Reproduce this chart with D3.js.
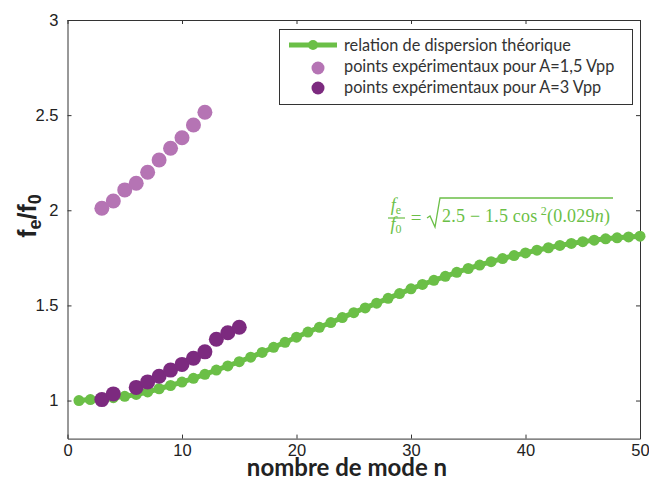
<!DOCTYPE html>
<html>
<head>
<meta charset="utf-8">
<script src="https://cdn.jsdelivr.net/npm/d3@7"></script>
<style>
    body { margin: 0; background: #fff; }
</style>
</head>
<body>
<svg id="chart"></svg>
<script>

// theoretical dispersion relation, n = 1..50
const modesTheory = d3.range(1, 51);
const ratioTheory = [
    1.000, 1.005, 1.010, 1.015, 1.022, 1.032, 1.045, 1.062, 1.079, 1.097,
    1.117, 1.138, 1.160, 1.182, 1.204, 1.228, 1.253, 1.280, 1.306, 1.333,
    1.360, 1.385, 1.410, 1.436, 1.462, 1.487, 1.512, 1.537, 1.562, 1.587,
    1.610, 1.632, 1.653, 1.674, 1.694, 1.712, 1.730, 1.746, 1.762, 1.776,
    1.790, 1.803, 1.815, 1.826, 1.835, 1.843, 1.850, 1.855, 1.860, 1.864
];

// experimental points, A = 1.5 Vpp
const modesA15 = [3, 4, 5, 6, 7, 8, 9, 10, 11, 12];
const ratioA15 = [2.011, 2.049, 2.107, 2.142, 2.200, 2.264, 2.326, 2.381, 2.448, 2.515];

// experimental points, A = 3 Vpp
const modesA3 = [3, 4, 6, 7, 8, 9, 10, 11, 12, 13, 14, 15];
const ratioA3 = [1.005, 1.035, 1.069, 1.098, 1.128, 1.160, 1.190, 1.222, 1.256, 1.322, 1.356, 1.385];

const xTicks = [0, 10, 20, 30, 40, 50];
const yTicks = [1, 1.5, 2, 2.5, 3];

const legendLabels = [
    "relation de dispersion théorique",
    "points expérimentaux pour A=1,5 Vpp",
    "points expérimentaux pour A=3 Vpp"
];

const green = "#6bbf47";
const lightPurple = "#b574b4";
const darkPurple = "#7c2a7f";

const width = 649, height = 481;
const plotLeft = 67.5, plotRight = 640, plotTop = 20, plotBottom = 438.6;

const svg = d3.select("#chart")
    .attr("width", width)
    .attr("height", height);

const x = d3.scaleLinear().domain([0, 50]).range([plotLeft, plotRight]);
const y = d3.scaleLinear().domain([0.8, 3]).range([plotBottom, plotTop]);

// frame + ticks on all four sides (pointing inward)
const axisColor = "#333";
const styleAxis = g => {
    g.select(".domain").attr("stroke", axisColor);
    g.selectAll(".tick line").attr("stroke", axisColor);
    g.selectAll("text").attr("fill", "#222").style("font-size", "16.5px")
        .style("font-family", "'Liberation Sans', Arial, sans-serif");
};

svg.append("g")
    .attr("transform", `translate(0,${plotBottom})`)
    .call(d3.axisBottom(x).tickValues(xTicks).tickSize(-4).tickPadding(6).tickSizeOuter(0))
    .call(styleAxis);
svg.append("g")
    .attr("transform", `translate(0,${plotTop})`)
    .call(d3.axisTop(x).tickValues(xTicks).tickSize(-4).tickFormat("").tickSizeOuter(0))
    .call(styleAxis);
svg.append("g")
    .attr("transform", `translate(${plotLeft},0)`)
    .call(d3.axisLeft(y).tickValues(yTicks).tickSize(-4).tickPadding(9)
        .tickFormat(d3.format("~g")).tickSizeOuter(0))
    .call(styleAxis);
svg.append("g")
    .attr("transform", `translate(${plotRight},0)`)
    .call(d3.axisRight(y).tickValues(yTicks).tickSize(-4).tickFormat("").tickSizeOuter(0))
    .call(styleAxis);

// theory curve
const theory = modesTheory.map((n, i) => [n, ratioTheory[i]]);
svg.append("path")
    .datum(theory)
    .attr("fill", "none")
    .attr("stroke", green)
    .attr("stroke-width", 5)
    .attr("d", d3.line().x(d => x(d[0])).y(d => y(d[1])));
svg.append("g").selectAll("circle")
    .data(theory)
    .join("circle")
    .attr("cx", d => x(d[0]))
    .attr("cy", d => y(d[1]))
    .attr("r", 5.5)
    .attr("fill", green);

// experimental points
const drawPoints = (modes, ratios, color) => {
    svg.append("g").selectAll("circle")
        .data(modes.map((n, i) => [n, ratios[i]]))
        .join("circle")
        .attr("cx", d => x(d[0]))
        .attr("cy", d => y(d[1]))
        .attr("r", 7.5)
        .attr("fill", color);
};
drawPoints(modesA15, ratioA15, lightPurple);
drawPoints(modesA3, ratioA3, darkPurple);

// legend
const legend = svg.append("g");
legend.append("rect")
    .attr("x", 279.5).attr("y", 29.5)
    .attr("width", 353).attr("height", 75)
    .attr("fill", "#fff")
    .attr("stroke", axisColor);
legend.append("line")
    .attr("x1", 289).attr("x2", 337).attr("y1", 45).attr("y2", 45)
    .attr("stroke", green).attr("stroke-width", 5);
legend.append("circle").attr("cx", 313).attr("cy", 45).attr("r", 5).attr("fill", green);
legend.append("circle").attr("cx", 318).attr("cy", 68).attr("r", 6.5).attr("fill", lightPurple);
legend.append("circle").attr("cx", 318).attr("cy", 88).attr("r", 6.5).attr("fill", darkPurple);
legend.selectAll("text.lab")
    .data(legendLabels)
    .join("text")
    .attr("class", "lab")
    .attr("x", 344)
    .attr("y", (d, i) => [51, 72, 93][i])
    .attr("fill", "#333")
    .style("font-family", "Lato, 'Open Sans', sans-serif")
    .style("font-size", "16.3px")
    .text(d => d);

// axis titles
svg.append("text")
    .attr("x", 347).attr("y", 476)
    .attr("text-anchor", "middle")
    .attr("fill", "#222")
    .style("font-family", "Lato, 'Open Sans', sans-serif")
    .style("font-weight", "bold")
    .style("font-size", "24px")
    .text("nombre de mode n");

const ylab = svg.append("text")
    .attr("transform", "translate(36,216) rotate(-90)")
    .attr("text-anchor", "middle")
    .attr("fill", "#222")
    .style("font-family", "'Liberation Sans', Arial, sans-serif")
    .style("font-weight", "bold")
    .style("font-size", "25px");
ylab.append("tspan").text("f");
ylab.append("tspan").attr("dy", 5).style("font-size", "18px").text("e");
ylab.append("tspan").attr("dy", -5).text("/f");
ylab.append("tspan").attr("dy", 5).style("font-size", "18px").text("0");

// formula
const eq = svg.append("g").attr("fill", green);
const serif = "'Liberation Serif', 'DejaVu Serif', serif";
const frac = (txt, sub, cx, yy) => {
    const t = eq.append("text").attr("x", cx).attr("y", yy).attr("text-anchor", "middle")
        .style("font-family", serif).style("font-size", "18px");
    t.append("tspan").style("font-style", "italic").text(txt);
    t.append("tspan").attr("dy", 3).style("font-size", "12px").text(sub);
};
frac("f", "e", 396, 211);
frac("f", "0", 396, 230);
eq.append("line").attr("x1", 388).attr("x2", 405).attr("y1", 218).attr("y2", 218)
    .attr("stroke", green).attr("stroke-width", 1.2);
eq.append("text").attr("x", 416).attr("y", 224).attr("text-anchor", "middle")
    .style("font-family", serif).style("font-size", "19px").text("=");
eq.append("path")
    .attr("d", "M427,218 L430,216 L435,227 L440,198 L613,198")
    .attr("fill", "none").attr("stroke", green).attr("stroke-width", 1.3);
const body = eq.append("text").attr("x", 442).attr("y", 222)
    .style("font-family", serif).style("font-size", "18px")
    .attr("textLength", 168).attr("lengthAdjust", "spacing");
body.append("tspan").text("2.5 − 1.5 cos");
body.append("tspan").attr("dy", -7).style("font-size", "12px").text(" 2");
body.append("tspan").attr("dy", 7).text("(0.029");
body.append("tspan").style("font-style", "italic").text("n");
body.append("tspan").text(")");

</script>
</body>
</html>
